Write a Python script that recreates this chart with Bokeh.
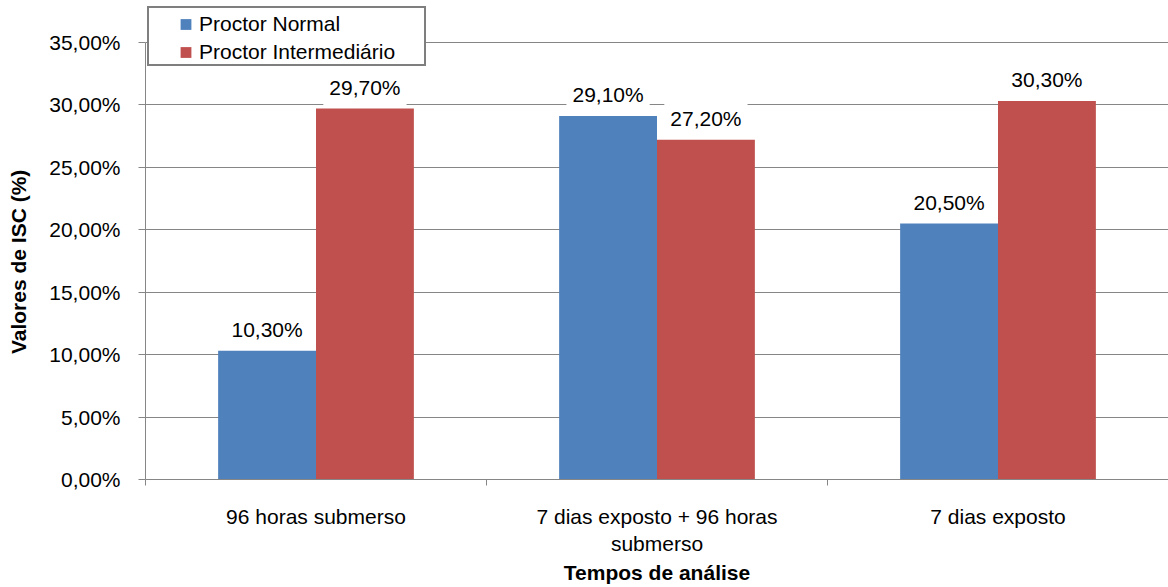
from bokeh.plotting import figure
from bokeh.models import Range1d, FixedTicker, Legend, LegendItem, Label, ColumnDataSource
from bokeh.embed import file_html
from bokeh.resources import INLINE

# ---- data ----
categories = ["96 horas submerso", "7 dias exposto + 96 horas\nsubmerso", "7 dias exposto"]
series_names = ["Proctor Normal", "Proctor Intermediário"]
proctor_normal = [10.3, 29.1, 20.5]
proctor_intermediario = [29.7, 27.2, 30.3]
y_ticks = [0, 5, 10, 15, 20, 25, 30, 35]
y_tick_labels = ["0,00%", "5,00%", "10,00%", "15,00%", "20,00%", "25,00%", "30,00%", "35,00%"]
x_title = "Tempos de análise"
y_title = "Valores de ISC (%)"

# ---- style ----
FONT = "Liberation Sans"
FS = "21px"
GRAY = "#868686"
COLORS = ["#4F81BD", "#C0504D"]
BAR_W = 0.287
Y_VIEW_MAX = 38.1   # headroom above the last tick so the legend sits inside the frame

p = figure(width=1168, height=587, output_backend="svg", toolbar_location=None,
           x_range=Range1d(0, len(categories)), y_range=Range1d(y_ticks[0], Y_VIEW_MAX),
           min_border_left=145, min_border_right=0, min_border_top=3, min_border_bottom=107)
p.outline_line_color = None
p.background_fill_color = "white"
p.border_fill_color = "white"

centers = [i + 0.5 for i in range(len(categories))]
offsets = [-BAR_W / 2, BAR_W / 2]
legend_items = []
for name, vals, col, off in zip(series_names, [proctor_normal, proctor_intermediario], COLORS, offsets):
    src = ColumnDataSource(dict(x=[c + off for c in centers], top=vals))
    p.vbar(x="x", top="top", bottom=0, width=BAR_W, source=src, fill_color=col, line_color=None)
    sr = p.scatter(x="x", y="top", marker="square", size=0, source=src, fill_color=col, line_color=None)
    legend_items.append(LegendItem(label=name, renderers=[sr]))
    for xv, v in zip(src.data["x"], vals):
        txt = ("%.2f%%" % v).replace(".", ",")
        p.add_layout(Label(x=xv, y=v, text=txt, y_offset=21, text_align="center", text_baseline="middle",
                           text_font=FONT, text_font_size=FS, text_color="black",
                           background_fill_color="white", background_fill_alpha=1.0, padding=6))

# legend frame (box only)
legend_box = Legend(items=[LegendItem(label=" ", renderers=[])], location=(2, 413),
                    padding=0, spacing=0, margin=0, glyph_width=1, glyph_height=56,
                    label_height=56, label_width=274, label_standoff=0,
                    label_text_font=FONT, label_text_font_size=FS, label_text_alpha=0,
                    border_line_color="black", border_line_width=2,
                    background_fill_color="white", background_fill_alpha=1.0)
p.add_layout(legend_box)

# legend content
legend = Legend(items=legend_items, location=(27, 413), padding=0, spacing=0, margin=0,
                glyph_width=27, glyph_height=28, label_height=18, label_standoff=0,
                label_text_font=FONT, label_text_font_size=FS, label_text_color="black",
                border_line_color=None, background_fill_alpha=0.0)
p.add_layout(legend)

# y axis
ya = p.yaxis[0]
ya.ticker = FixedTicker(ticks=y_ticks)
ya.bounds = (y_ticks[0], y_ticks[-1])
ya.major_label_overrides = dict(zip(y_ticks, y_tick_labels))
ya.axis_line_color = GRAY
ya.major_tick_line_color = GRAY
ya.major_tick_out = 7
ya.major_tick_in = 0
ya.minor_tick_line_color = None
ya.major_label_standoff = 18
ya.major_label_text_font = FONT
ya.major_label_text_font_size = FS
ya.major_label_text_color = "black"
# non-breaking spaces keep the title centred on the 0-35 % span rather than the whole frame
ya.axis_label = y_title + "\u00a0" * 7
ya.axis_label_text_font = FONT
ya.axis_label_text_font_size = FS
ya.axis_label_text_font_style = "bold"
ya.axis_label_text_color = "black"
ya.axis_label_standoff = 16

# x axis
xa = p.xaxis[0]
xa.ticker = FixedTicker(ticks=centers, minor_ticks=list(range(len(categories) + 1)))
xa.major_label_overrides = dict(zip(centers, categories))
xa.axis_line_color = GRAY
xa.major_tick_line_color = None
xa.major_tick_out = 0
xa.major_tick_in = 0
xa.minor_tick_line_color = GRAY
xa.minor_tick_out = 6
xa.minor_tick_in = 0
xa.major_label_standoff = 19
xa.major_label_text_font = FONT
xa.major_label_text_font_size = FS
xa.major_label_text_color = "black"
xa.axis_label = x_title
xa.axis_label_text_font = FONT
xa.axis_label_text_font_size = FS
xa.axis_label_text_font_style = "bold"
xa.axis_label_text_color = "black"
xa.axis_label_standoff = 3

p.xgrid.grid_line_color = None
p.ygrid.grid_line_color = GRAY
p.ygrid.grid_line_width = 1
p.ygrid.ticker = FixedTicker(ticks=y_ticks)

open("out.html", "w").write(file_html(p, INLINE))
